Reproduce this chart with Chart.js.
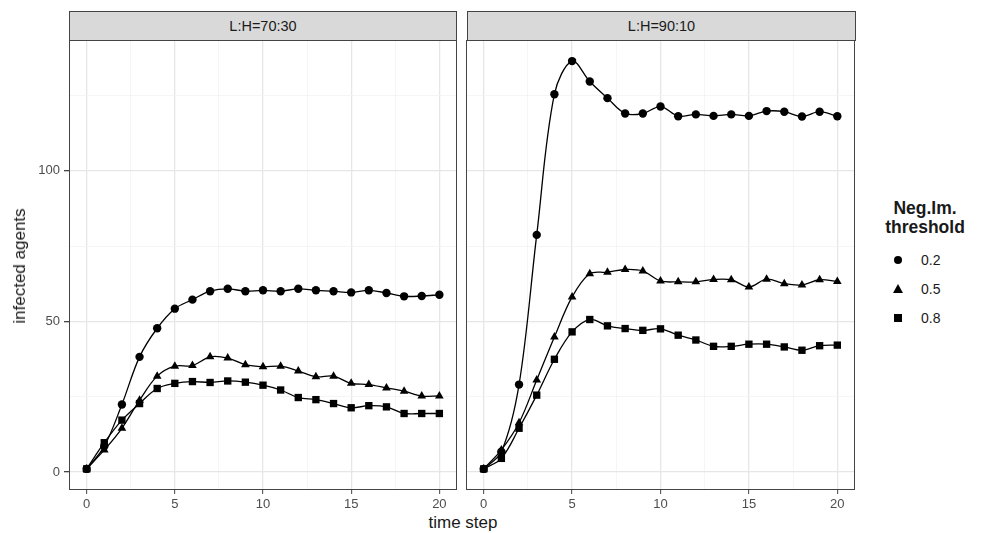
<!DOCTYPE html>
<html>
<head>
<meta charset="utf-8">
<script src="https://cdn.jsdelivr.net/npm/chart.js@4.4.1/dist/chart.umd.min.js"></script>
<style>
  body { margin: 0; background: #fff; font-family: "Liberation Sans", Arial, sans-serif; }
  #wrap { position: relative; width: 983px; height: 533px; overflow: hidden; }
  .panel { position: absolute; top: 40px; height: 470px; }
  .strip { position: absolute; top: 11px; height: 28px; background: #d9d9d9; border: 1px solid #444;
           box-sizing: content-box; text-align: center; line-height: 28px; font-size: 14.5px; color: #1a1a1a; }
  .ytitle { position: absolute; left: 20px; top: 266px; transform: translate(-50%, -50%) rotate(-90deg);
            font-size: 17px; color: #1a1a1a; white-space: nowrap; }
  .xtitle { position: absolute; left: 463px; top: 523px; transform: translate(-50%, -50%);
            font-size: 17px; color: #1a1a1a; white-space: nowrap; }
  .legtitle { position: absolute; left: 865px; top: 199px; width: 120px; text-align: center;
              font-size: 17.5px; font-weight: bold; line-height: 19px; color: #1a1a1a; }
  .legitem { position: absolute; left: 921px; font-size: 14px; color: #1a1a1a; transform: translateY(-50%); }
  .sym { position: absolute; }
</style>
</head>
<body>
<div id="wrap">
  <div class="strip" style="left:69px; width:386px;">L:H=70:30</div>
  <div class="strip" style="left:467px; width:387px;">L:H=90:10</div>
  <div class="panel" style="left:0px; width:460px;"><canvas id="left"></canvas></div>
  <div class="panel" style="left:466px; width:392px;"><canvas id="right"></canvas></div>
  <div class="ytitle">infected agents</div>
  <div class="xtitle">time step</div>
  <div class="legtitle">Neg.Im.<br>threshold</div>
  <div class="sym" style="left:894px; top:256px; width:8px; height:8px; border-radius:50%; background:#000;"></div>
  <div class="sym" style="left:893px; top:284px; width:0; height:0; border-left:5px solid transparent; border-right:5px solid transparent; border-bottom:9px solid #000;"></div>
  <div class="sym" style="left:894px; top:314px; width:8px; height:8px; background:#000;"></div>
  <div class="legitem" style="top:260px;">0.2</div>
  <div class="legitem" style="top:289px;">0.5</div>
  <div class="legitem" style="top:318px;">0.8</div>
</div>
<script>
var timeSteps = [0, 1, 2, 3, 4, 5, 6, 7, 8, 9, 10, 11, 12, 13, 14, 15, 16, 17, 18, 19, 20];
var thresholds = ['0.2', '0.5', '0.8'];
var pointShapes = ['circle', 'triangle', 'rect'];
var pointSizes = [4.2, 5, 5.2];

// L:H = 70:30
var left02 = [1, 8.5, 22.4, 38.2, 47.7, 54.2, 57.2, 60, 60.8, 60, 60.3, 60, 60.8, 60.3, 60, 59.6, 60.3, 59.4, 58.3, 58.4, 58.8];
var left05 = [1, 7.3, 14.5, 23.8, 31.8, 35.1, 35.3, 38.2, 37.8, 35.6, 34.9, 35.1, 33.5, 31.6, 31.8, 29.4, 29.0, 27.9, 26.8, 25.2, 25.2];
var left08 = [1, 9.7, 17.2, 22.7, 27.7, 29.4, 30.0, 29.7, 30.2, 29.8, 28.8, 27.2, 24.7, 24.0, 22.7, 21.3, 22.0, 21.6, 19.4, 19.4, 19.4];

// L:H = 90:10
var right02 = [1, 6.7, 29.0, 78.7, 125.4, 136.4, 129.6, 124.1, 119.0, 119.0, 121.3, 118.1, 118.7, 118.2, 118.7, 118.2, 119.8, 119.6, 118.0, 119.6, 118.1];
var right05 = [1, 7.3, 16.3, 30.5, 44.8, 58.1, 65.8, 66.3, 67.2, 66.7, 63.4, 63.1, 63.1, 63.9, 63.8, 61.4, 64.0, 62.5, 62.1, 63.8, 63.2];
var right08 = [1, 4.5, 14.5, 25.5, 37.4, 46.5, 50.6, 48.5, 47.6, 47.0, 47.5, 45.4, 43.8, 41.7, 41.7, 42.4, 42.4, 41.5, 40.4, 41.9, 42.1];

var xTicks = [0, 5, 10, 15, 20];
var xMinor = [2.5, 7.5, 12.5, 17.5];
var yTicks = [0, 50, 100];
var yMinor = [25, 75, 125];

function toPoints(vals) {
    return vals.map(function(v, i) { return { x: timeSteps[i], y: v }; });
}

function makeDatasets(seriesList) {
    return seriesList.map(function(vals, i) {
        return {
            label: thresholds[i],
            data: toPoints(vals),
            borderColor: '#000',
            backgroundColor: '#000',
            borderWidth: 1.3,
            pointStyle: pointShapes[i],
            pointRadius: pointSizes[i],
            pointBorderWidth: 0,
            tension: 0.35,
            fill: false
        };
    });
}

var panelBorder = {
    id: 'panelBorder',
    afterDraw: function(chart) {
        var a = chart.chartArea, c = chart.ctx;
        c.save();
        c.strokeStyle = '#444';
        c.lineWidth = 1;
        c.strokeRect(Math.round(a.left) + 0.5, Math.round(a.top) + 0.5, Math.round(a.right - a.left) - 1, Math.round(a.bottom - a.top) - 1);
        c.restore();
    }
};

function gridColor(list) {
    return function(ctx) {
        if (!ctx.tick) return '#ebebeb';
        return list.indexOf(ctx.tick.value) >= 0 ? '#e6e6e6' : '#f3f3f3';
    };
}
function gridWidth(list) {
    return function(ctx) {
        if (!ctx.tick) return 1;
        return list.indexOf(ctx.tick.value) >= 0 ? 1.3 : 0.8;
    };
}
function tickMarkColor(list) {
    return function(ctx) {
        if (!ctx.tick) return '#333';
        return list.indexOf(ctx.tick.value) >= 0 ? '#444' : 'rgba(0,0,0,0)';
    };
}
function setTicks(major, minor) {
    return function(s) {
        s.ticks = major.concat(minor).sort(function(a, b) { return a - b; })
            .map(function(v) { return { value: v }; });
    };
}

function makeChart(id, seriesList, showY, yWidth) {
    return new Chart(document.getElementById(id).getContext('2d'), {
        type: 'line',
        data: { datasets: makeDatasets(seriesList) },
        options: {
            responsive: true,
            maintainAspectRatio: false,
            animation: false,
            layout: { autoPadding: false, padding: { top: 0, right: 3, left: 0, bottom: 0 } },
            plugins: { legend: { display: false }, tooltip: { enabled: false } },
            scales: {
                x: {
                    type: 'linear',
                    min: -1,
                    max: 21,
                    afterBuildTicks: setTicks(xTicks, xMinor),
                    afterFit: function(s) { s.height = 20; s.paddingLeft = 0; s.paddingRight = 0; },
                    border: { display: false },
                    grid: {
                        color: gridColor(xTicks),
                        lineWidth: gridWidth(xTicks),
                        tickColor: tickMarkColor(xTicks),
                        tickLength: 4,
                        tickWidth: 1
                    },
                    ticks: {
                        autoSkip: false,
                        maxRotation: 0,
                        padding: 3,
                        color: '#4d4d4d',
                        font: { family: 'Liberation Sans', size: 13 },
                        callback: function(v) { return xTicks.indexOf(v) >= 0 ? String(v) : ''; }
                    }
                },
                y: {
                    type: 'linear',
                    min: -6,
                    max: 143.4,
                    afterBuildTicks: setTicks(yTicks, yMinor),
                    afterFit: function(s) { s.width = yWidth; s.paddingTop = 0; s.paddingBottom = 0; },
                    border: { display: false },
                    grid: {
                        color: gridColor(yTicks),
                        lineWidth: gridWidth(yTicks),
                        tickColor: showY ? tickMarkColor(yTicks) : 'rgba(0,0,0,0)',
                        tickLength: showY ? 5 : 0,
                        drawTicks: showY
                    },
                    ticks: {
                        display: showY,
                        autoSkip: false,
                        padding: 4,
                        color: '#4d4d4d',
                        font: { family: 'Liberation Sans', size: 13 },
                        callback: function(v) { return yTicks.indexOf(v) >= 0 ? String(v) : ''; }
                    }
                }
            }
        },
        plugins: [panelBorder]
    });
}

makeChart('left', [left02, left05, left08], true, 69);
makeChart('right', [right02, right05, right08], false, 0);
</script>
</body>
</html>
